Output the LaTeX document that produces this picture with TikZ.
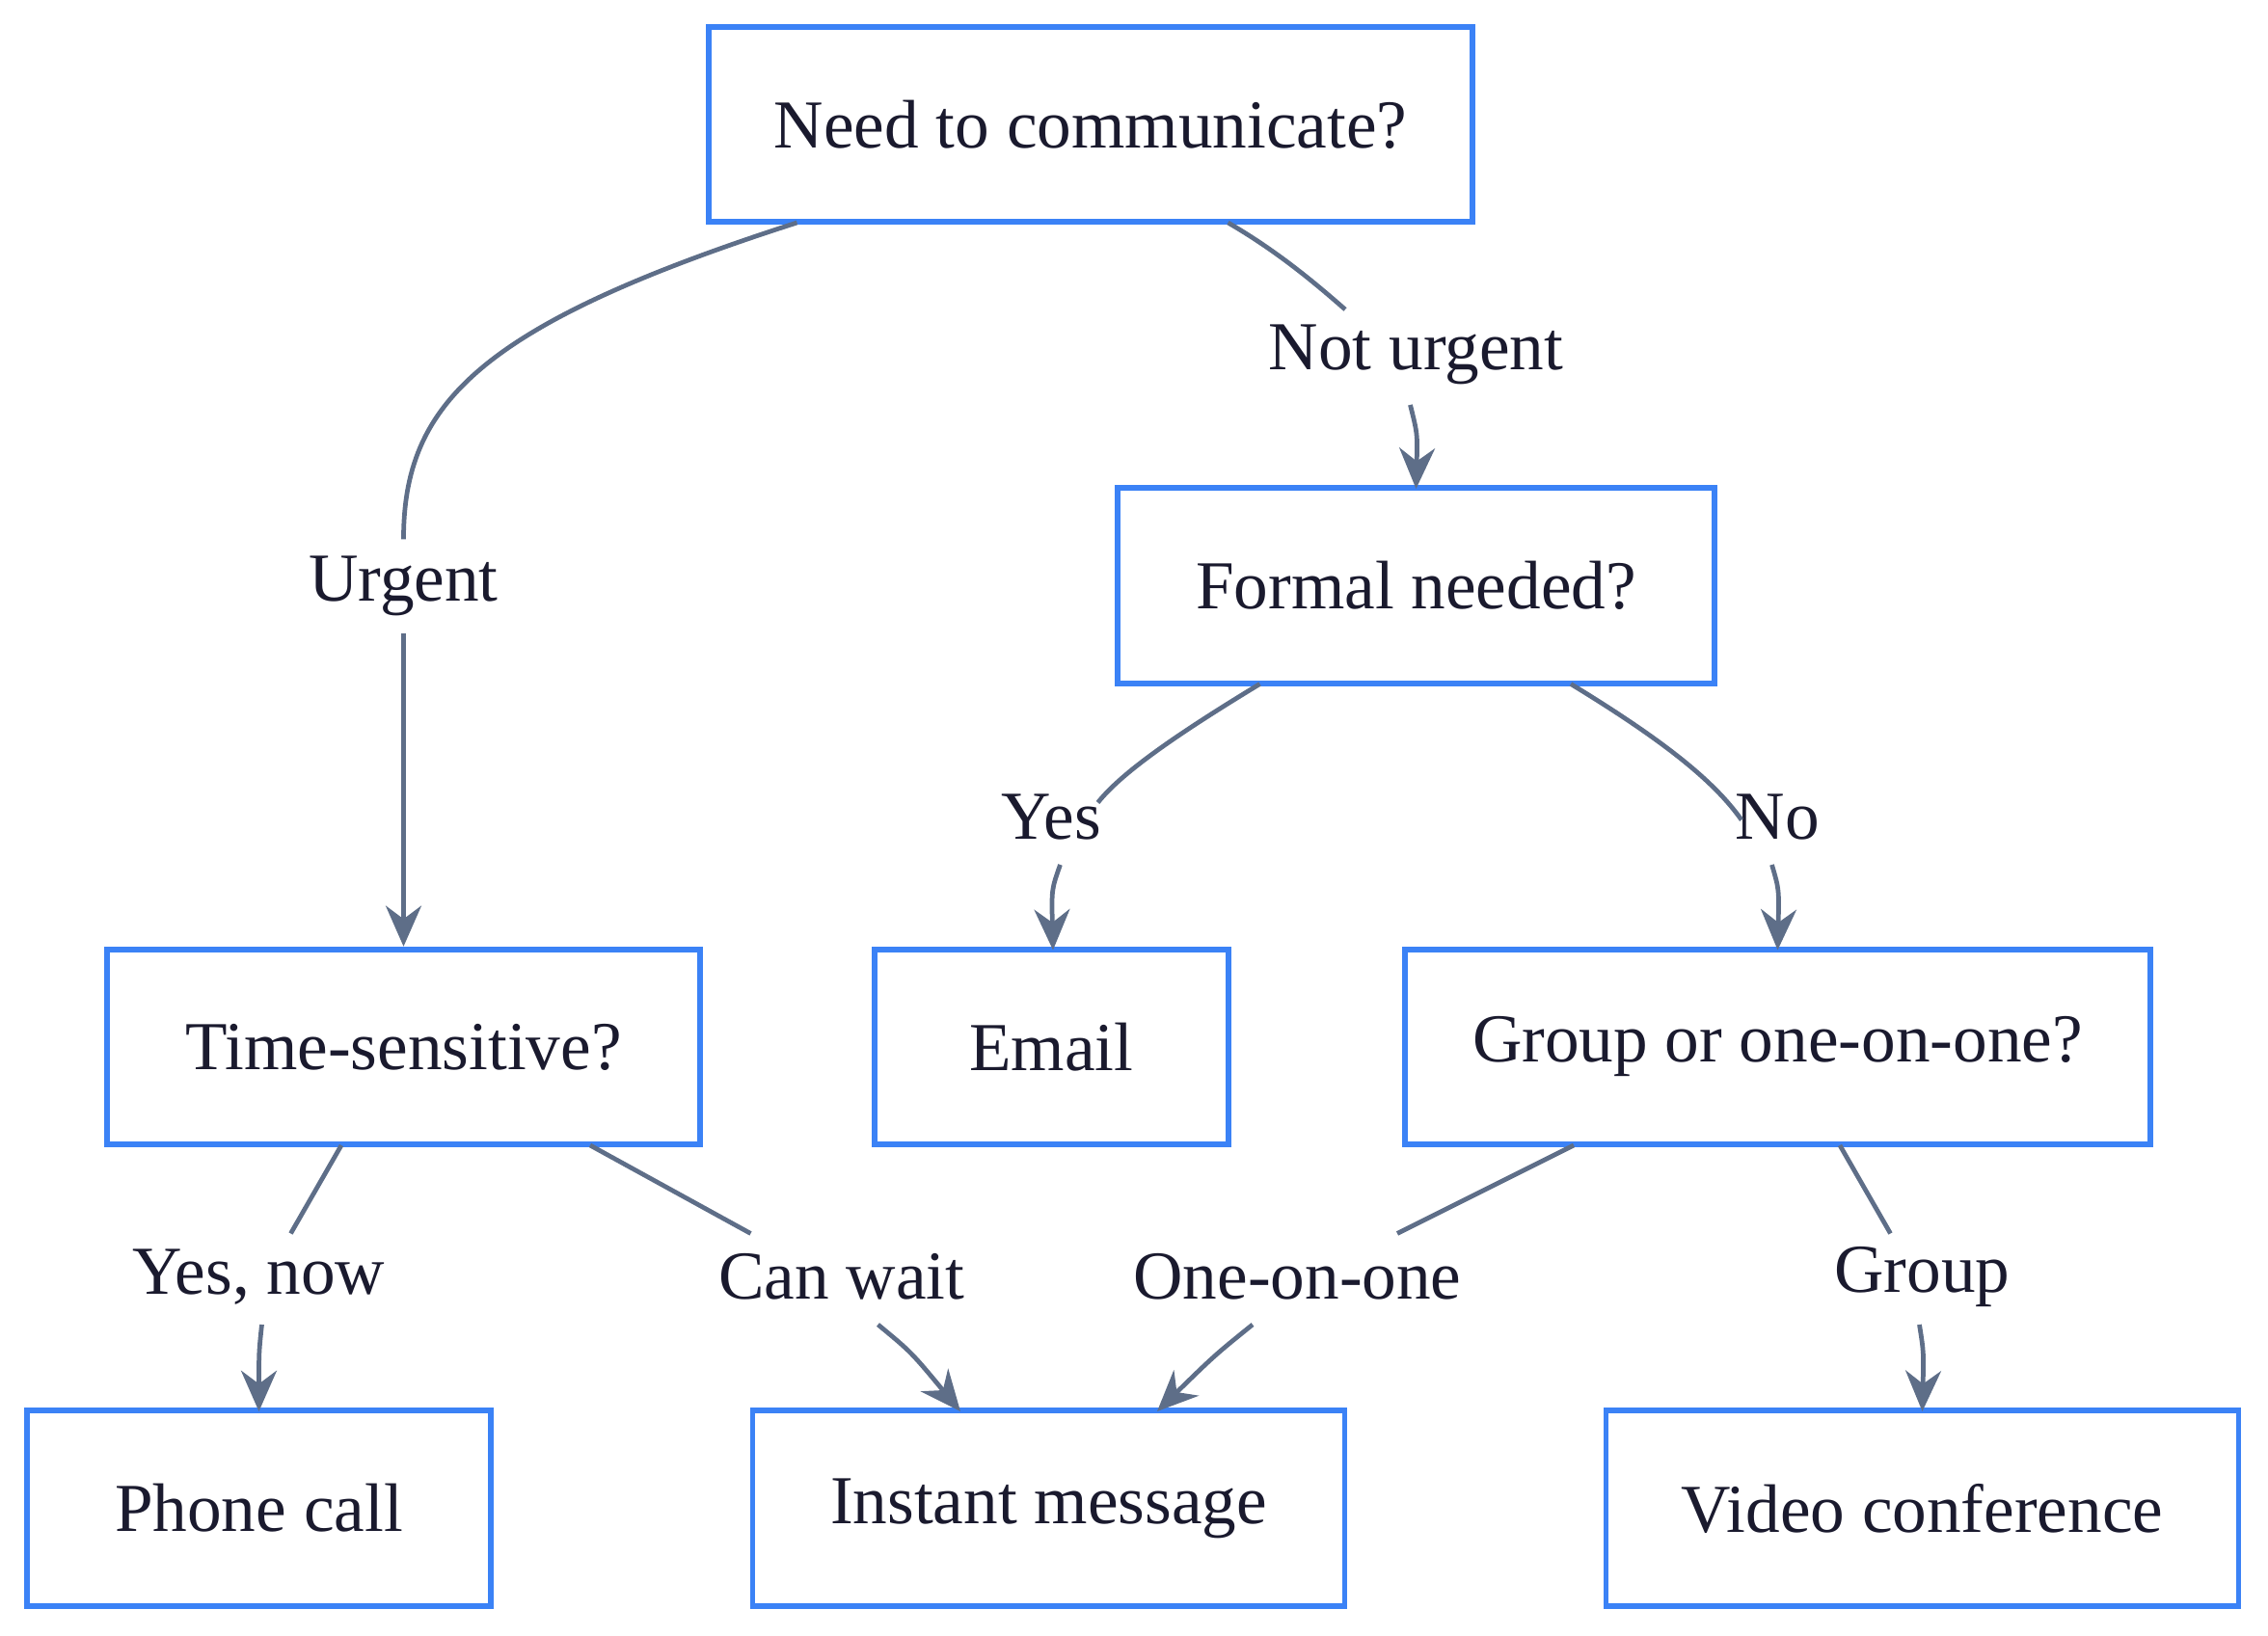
\documentclass[tikz,border=0pt]{standalone}
\usepackage{fontspec}
\setmainfont{Liberation Serif}
\usetikzlibrary{arrows.meta}
\definecolor{boxc}{HTML}{3B82F6}
\definecolor{edgec}{HTML}{5E6E88}
\definecolor{txt}{HTML}{1A1A2E}
\begin{document}
\begin{tikzpicture}[x=0.01cm,y=-0.01cm,
  box/.style={draw=boxc,line width=1.1pt,fill=white,text=txt,minimum height=1.35cm,font=\fontsize{13.5}{16}\selectfont},
  lbl/.style={text=txt,font=\fontsize{13.5}{16}\selectfont},
  edge/.style={draw=edgec,line width=0.9pt},
  arr/.style={edge,-{Stealth[length=8pt,width=7pt]}}]
\useasboundingbox (0,0) rectangle (1568,1131);
\node[box,minimum width=5.28cm] (A) at (754,86) {Need to communicate?};
\node[box,minimum width=4.12cm] (B) at (979,405) {Formal needed?};
\node[box,minimum width=4.10cm] (C) at (279,724) {Time-sensitive?};
\node[box,minimum width=2.45cm] (D) at (727,724) {Email};
\node[box,minimum width=5.15cm] (E) at (1229,724) {Group or one-on-one?};
\node[box,minimum width=3.20cm] (F) at (179,1043) {Phone call};
\node[box,minimum width=4.09cm] (G) at (725,1043) {Instant message};
\node[box,minimum width=4.37cm] (H) at (1329,1043) {Video conference};
\node[lbl] (l1) at (279,405) {Urgent};
\node[lbl] (l2) at (979,245) {Not urgent};
\node[lbl] (l3) at (727,565) {Yes};
\node[lbl] (l4) at (1229,565) {No};
\node[lbl] (l5) at (179,883) {Yes, now};
\node[lbl] (l6) at (582,883) {Can wait};
\node[lbl] (l7) at (897,883) {One-on-one};
\node[lbl] (l8) at (1329,883) {Group};
% A -> Urgent -> C
\draw[edge] (551,154) .. controls (330,225) and (279,280) .. (279,373);
\draw[arr] (279,438) -- (C.north);
% A -> Not urgent -> B
\draw[edge] (849,154) .. controls (880,172) and (905,192) .. (930,214);
\draw[arr] (975,280) .. controls (980,300) .. (979,338);
% B -> Yes -> D
\draw[edge] (871,473) .. controls (810,510) and (775,535) .. (759,555);
\draw[arr] (733,598) .. controls (727,615) .. (728,657);
% B -> No -> E
\draw[edge] (1086,473) .. controls (1150,512) and (1185,540) .. (1204,567);
\draw[arr] (1225,598) .. controls (1230,615) .. (1229,657);
% C -> Yes, now -> F
\draw[edge] (236,792) -- (201,853);
\draw[arr] (181,916) .. controls (179,935) .. (179,976);
% C -> Can wait -> G
\draw[edge] (408,792) -- (519,853);
\draw[arr] (607,916) .. controls (630,935) .. (664,976);
% E -> One-on-one -> G
\draw[edge] (1088,792) -- (966,853);
\draw[arr] (866,916) .. controls (840,937) .. (800,976);
% E -> Group -> H
\draw[edge] (1272,792) -- (1307,853);
\draw[arr] (1327,916) .. controls (1330,935) .. (1329,976);
\end{tikzpicture}
\end{document}
